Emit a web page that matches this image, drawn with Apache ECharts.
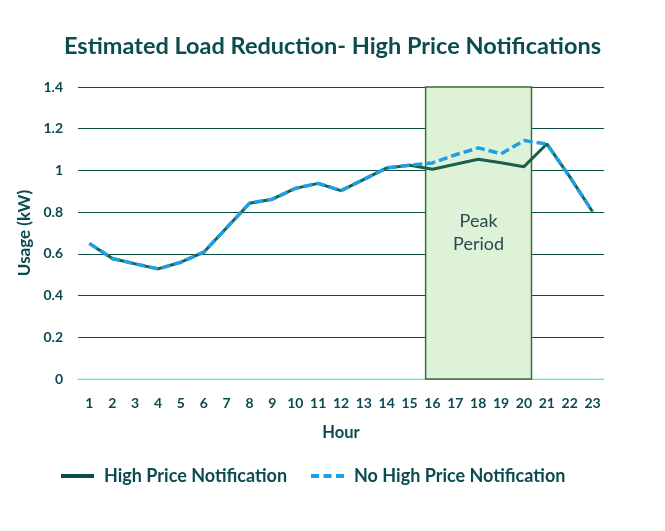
<!DOCTYPE html>
<html>
<head>
<meta charset="utf-8">
<script src="https://cdn.jsdelivr.net/npm/echarts@6/dist/echarts.min.js"></script>
<style>html,body{margin:0;padding:0;background:#fff;}#c{width:665px;height:531px;}</style>
</head>
<body>
<div id="c"></div>
<script>
const hours = ['1','2','3','4','5','6','7','8','9','10','11','12','13','14','15','16','17','18','19','20','21','22','23'];
const highPrice = [0.65,0.578,0.552,0.528,0.56,0.608,0.725,0.843,0.862,0.914,0.938,0.903,0.957,1.012,1.025,1.006,1.03,1.054,1.037,1.018,1.127,0.97,0.802];
const noHighPrice = [0.65,0.578,0.552,0.528,0.56,0.608,0.725,0.843,0.862,0.914,0.938,0.903,0.957,1.012,1.025,1.036,1.075,1.108,1.08,1.143,1.127,0.97,0.802];
const peakStart = '16';
const peakEnd = '20';
const peakLabel = 'Peak\nPeriod';
const yTicks = [0, 0.2, 0.4, 0.6, 0.8, 1, 1.2, 1.4];

const FONT = 'Lato';
const TXT = '#0b4b50';
const chart = echarts.init(document.getElementById('c'), null, {renderer: 'canvas'});
const i0 = hours.indexOf(peakStart), i1 = hours.indexOf(peakEnd);
chart.setOption({
  animation: false,
  title: {
    text: 'Estimated Load Reduction- High Price Notifications',
    left: 'center', top: 29,
    textStyle: {fontFamily: FONT, fontWeight: 'bold', fontSize: 23.5, color: '#0b4d4d'}
  },
  grid: {left: 78, right: 61, top: 87, bottom: 152, containLabel: false},
  legend: {
    bottom: 41, left: 56, itemWidth: 33, itemHeight: 4, itemGap: 24,
    textStyle: {fontFamily: FONT, fontWeight: 'bold', fontSize: 18, color: TXT, padding: [0, 0, 0, 5]},
    data: [
      {name: 'High Price Notification', icon: 'path://M0,0H33V4H0Z', itemStyle: {color: '#0c4d45'}},
      {name: 'No High Price Notification', icon: 'path://M0,0H8V4H0ZM12.5,0H20.5V4H12.5ZM25,0H33V4H25Z', itemStyle: {color: '#1f9fe8'}}
    ]
  },
  xAxis: [{
    type: 'category', data: hours, boundaryGap: true,
    axisLine: {show: true, lineStyle: {color: '#bff7de', width: 1.5}},
    axisTick: {show: false},
    axisLabel: {fontFamily: FONT, fontWeight: 'bold', fontSize: 14, color: TXT, margin: 17, interval: 0},
    name: 'Hour', nameLocation: 'middle', nameGap: 45,
    nameTextStyle: {fontFamily: FONT, fontWeight: 'bold', fontSize: 16.5, color: TXT}
  }, {
    type: 'value', min: 0, max: hours.length, show: false
  }],
  yAxis: {
    type: 'value', min: yTicks[0], max: yTicks[yTicks.length - 1], interval: 0.2,
    axisLine: {show: false}, axisTick: {show: false},
    splitLine: {lineStyle: {color: '#0d4d42', width: 1}},
    axisLabel: {fontFamily: FONT, fontWeight: 'bold', fontSize: 14, color: TXT, margin: 15},
    name: 'Usage (kW)', nameLocation: 'middle', nameGap: 42, nameRotate: 90,
    nameTextStyle: {fontFamily: FONT, fontWeight: 'bold', fontSize: 17, color: TXT}
  },
  series: [{
    name: 'peak', type: 'line', xAxisIndex: 1, data: [], silent: true,
    markArea: {
      silent: true,
      itemStyle: {color: '#def2d8', borderColor: '#3b6b3d', borderWidth: 1.5},
      label: {show: true, position: 'inside', formatter: peakLabel, fontFamily: FONT, fontSize: 18, lineHeight: 23, color: '#2a4a4f'},
      data: [[{xAxis: i0 + 0.2, yAxis: yTicks[0]}, {xAxis: i1 + 0.83, yAxis: yTicks[yTicks.length - 1]}]]
    }
  }, {
    name: 'High Price Notification', type: 'line', data: highPrice, symbol: 'none', z: 3,
    lineStyle: {color: '#1b6049', width: 3}, itemStyle: {color: '#0c4d45'}
  }, {
    name: 'No High Price Notification', type: 'line', data: noHighPrice, symbol: 'none', z: 4,
    lineStyle: {color: '#1f9fe8', width: 3.5, type: [9, 4]}, itemStyle: {color: '#1f9fe8'}
  }]
});
</script>
</body>
</html>
